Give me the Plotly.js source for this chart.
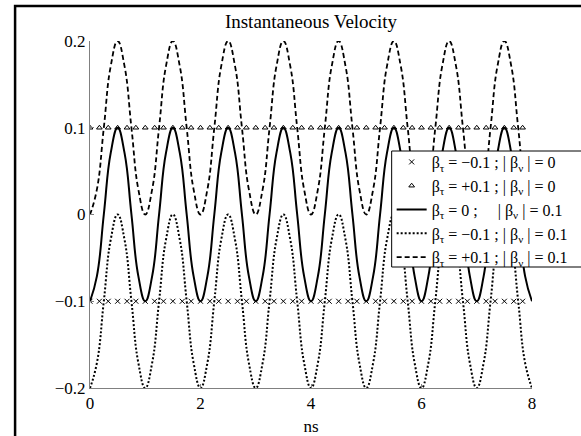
<!DOCTYPE html>
<html>
<head>
<meta charset="utf-8">
<script src="https://cdn.plot.ly/plotly-3.0.1.min.js"></script>
<style>html,body{margin:0;padding:0;background:#fff;}#plot{width:581px;height:436px;}</style>
</head>
<body>
<div id="plot"></div>
<script>
// time axis (ns) for the oscillating curves
const tCurve = [0,0.125,0.25,0.375,0.5,0.625,0.75,0.875,1,1.125,1.25,1.375,1.5,1.625,1.75,1.875,2,2.125,2.25,2.375,2.5,2.625,2.75,2.875,3,3.125,3.25,3.375,3.5,3.625,3.75,3.875,4,4.125,4.25,4.375,4.5,4.625,4.75,4.875,5,5.125,5.25,5.375,5.5,5.625,5.75,5.875,6,6.125,6.25,6.375,6.5,6.625,6.75,6.875,7,7.125,7.25,7.375,7.5,7.625,7.75,7.875,8];
// beta_tau = 0 ; |beta_v| = 0.1 (solid)
const vTau0 = [-0.1,-0.071,0,0.071,0.1,0.071,0,-0.071,-0.1,-0.071,0,0.071,0.1,0.071,0,-0.071,-0.1,-0.071,0,0.071,0.1,0.071,0,-0.071,-0.1,-0.071,0,0.071,0.1,0.071,0,-0.071,-0.1,-0.071,0,0.071,0.1,0.071,0,-0.071,-0.1,-0.071,0,0.071,0.1,0.071,0,-0.071,-0.1,-0.071,0,0.071,0.1,0.071,0,-0.071,-0.1,-0.071,0,0.071,0.1,0.071,0,-0.071,-0.1];
// beta_tau = -0.1 ; |beta_v| = 0.1 (dotted)
const vTauMinus = [-0.2,-0.171,-0.1,-0.029,0,-0.029,-0.1,-0.171,-0.2,-0.171,-0.1,-0.029,0,-0.029,-0.1,-0.171,-0.2,-0.171,-0.1,-0.029,0,-0.029,-0.1,-0.171,-0.2,-0.171,-0.1,-0.029,0,-0.029,-0.1,-0.171,-0.2,-0.171,-0.1,-0.029,0,-0.029,-0.1,-0.171,-0.2,-0.171,-0.1,-0.029,0,-0.029,-0.1,-0.171,-0.2,-0.171,-0.1,-0.029,0,-0.029,-0.1,-0.171,-0.2,-0.171,-0.1,-0.029,0,-0.029,-0.1,-0.171,-0.2];
// beta_tau = +0.1 ; |beta_v| = 0.1 (dashed)
const vTauPlus = [0,0.029,0.1,0.171,0.2,0.171,0.1,0.029,0,0.029,0.1,0.171,0.2,0.171,0.1,0.029,0,0.029,0.1,0.171,0.2,0.171,0.1,0.029,0,0.029,0.1,0.171,0.2,0.171,0.1,0.029,0,0.029,0.1,0.171,0.2,0.171,0.1,0.029,0,0.029,0.1,0.171,0.2,0.171,0.1,0.029,0,0.029,0.1,0.171,0.2,0.171,0.1,0.029,0,0.029,0.1,0.171,0.2,0.171,0.1,0.029,0];
// time axis for the constant marker series
const tMark = [0,0.17,0.33,0.5,0.67,0.83,1,1.17,1.33,1.5,1.67,1.83,2,2.17,2.33,2.5,2.67,2.83,3,3.17,3.33,3.5,3.67,3.83,4,4.17,4.33,4.5,4.67,4.83,5,5.17,5.33,5.5,5.67,5.83,6,6.17,6.33,6.5,6.67,6.83,7,7.17,7.33,7.5,7.67,7.83];
// beta_tau = -0.1 ; |beta_v| = 0 (x markers)
const vMarkMinus = [-0.1,-0.1,-0.1,-0.1,-0.1,-0.1,-0.1,-0.1,-0.1,-0.1,-0.1,-0.1,-0.1,-0.1,-0.1,-0.1,-0.1,-0.1,-0.1,-0.1,-0.1,-0.1,-0.1,-0.1,-0.1,-0.1,-0.1,-0.1,-0.1,-0.1,-0.1,-0.1,-0.1,-0.1,-0.1,-0.1,-0.1,-0.1,-0.1,-0.1,-0.1,-0.1,-0.1,-0.1,-0.1,-0.1,-0.1,-0.1];
// beta_tau = +0.1 ; |beta_v| = 0 (triangle markers)
const vMarkPlus = [0.1,0.1,0.1,0.1,0.1,0.1,0.1,0.1,0.1,0.1,0.1,0.1,0.1,0.1,0.1,0.1,0.1,0.1,0.1,0.1,0.1,0.1,0.1,0.1,0.1,0.1,0.1,0.1,0.1,0.1,0.1,0.1,0.1,0.1,0.1,0.1,0.1,0.1,0.1,0.1,0.1,0.1,0.1,0.1,0.1,0.1,0.1,0.1];
const legendNames = [
  'β<sub>τ</sub> = −0.1 ; | β<sub>ν</sub> | = 0',
  'β<sub>τ</sub> = +0.1 ; | β<sub>ν</sub> | = 0',
  'β<sub>τ</sub> = 0 ; &nbsp;&nbsp;&nbsp; | β<sub>ν</sub> | = 0.1',
  'β<sub>τ</sub> = −0.1 ; | β<sub>ν</sub> | = 0.1',
  'β<sub>τ</sub> = +0.1 ; | β<sub>ν</sub> | = 0.1'
];
const xTicks = [0,2,4,6,8];
const yTicks = [-0.2,-0.1,0,0.1,0.2];
const yTickText = ['−0.2','−0.1','0','0.1','0.2'];

const FONT = "'Liberation Serif', 'Times New Roman', Times, serif";
const traces = [
  {x:tMark, y:vMarkMinus, name:legendNames[0], mode:'markers', type:'scatter',
   marker:{symbol:'x-thin-open', size:5, color:'#000', line:{width:1, color:'#000'}}},
  {x:tMark, y:vMarkPlus, name:legendNames[1], mode:'markers', type:'scatter',
   marker:{symbol:'triangle-up-open', size:5, color:'#000', line:{width:1, color:'#000'}}},
  {x:tCurve, y:vTau0, name:legendNames[2], mode:'lines', type:'scatter',
   line:{color:'#000', width:2, shape:'spline', smoothing:1.3}},
  {x:tCurve, y:vTauMinus, name:legendNames[3], mode:'lines', type:'scatter',
   line:{color:'#000', width:2, dash:'2px,2px', shape:'spline', smoothing:1.3}},
  {x:tCurve, y:vTauPlus, name:legendNames[4], mode:'lines', type:'scatter',
   line:{color:'#000', width:1.8, dash:'5px,3px', shape:'spline', smoothing:1.3}}
];
const L=90, R=48.5, T=41, B=48, W=581, H=436;
const pw=W-L-R, ph=H-T-B;
const px = v => (v-L)/pw;
const py = v => (H-B-v)/ph;
const layout = {
  width:W, height:H,
  margin:{l:L, r:R, t:T, b:B, pad:0, autoexpand:false},
  paper_bgcolor:'#fff', plot_bgcolor:'#fff',
  font:{family:FONT, size:17, color:'#000'},
  showlegend:true,
  title:{text:'Instantaneous Velocity', font:{family:FONT, size:19, color:'#000'},
         x:0.5, xref:'paper', xanchor:'center', y:1-21/H, yref:'container', yanchor:'middle'},
  xaxis:{range:[0,8], tickvals:xTicks, ticks:'inside', ticklen:4, tickcolor:'#808080',
         showline:true, linecolor:'#808080', linewidth:1, showgrid:false, zeroline:false,
         mirror:false, tickfont:{family:FONT, size:17}, automargin:false,
         title:{text:'ns', font:{family:FONT, size:17}, standoff:10}},
  yaxis:{range:[-0.2,0.2], tickvals:yTicks, ticktext:yTickText,
         ticks:'inside', ticklen:4, tickcolor:'#808080', automargin:false,
         showline:true, linecolor:'#808080', linewidth:1, showgrid:false, zeroline:false,
         tickfont:{family:FONT, size:17}},
  legend:{x:px(392), y:py(145), xanchor:'left', yanchor:'top',
          bgcolor:'rgba(0,0,0,0)', borderwidth:0,
          font:{family:FONT, size:16, color:'#000'}, tracegroupgap:0, itemwidth:30},
  shapes:[
    {type:'rect', xref:'paper', yref:'paper',
     x0:px(392), x1:px(620), y0:py(267), y1:py(151),
     line:{color:'#000', width:1}, fillcolor:'#fff', layer:'above'},
    {type:'rect', xref:'paper', yref:'paper',
     x0:px(15), x1:px(600), y0:py(460), y1:py(6),
     line:{color:'#000', width:2.5}, fillcolor:'rgba(0,0,0,0)', layer:'above'}
  ]
};
Plotly.newPlot('plot', traces, layout, {staticPlot:true, displayModeBar:false});
</script>
</body>
</html>
